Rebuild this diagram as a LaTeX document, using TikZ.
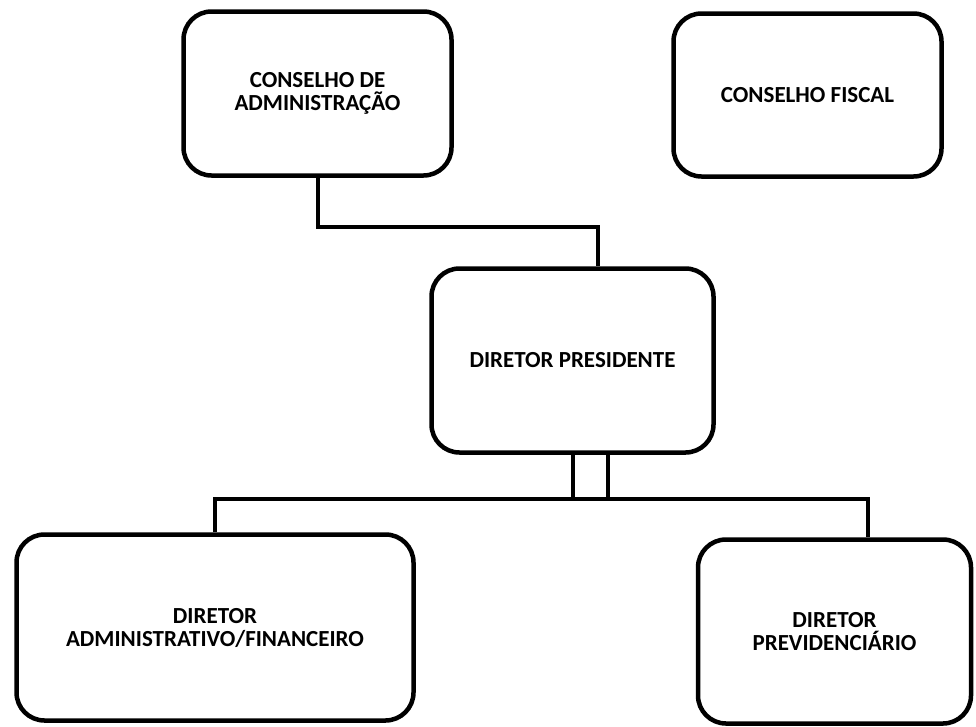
\documentclass[tikz,border=0pt]{standalone}
\usepackage{fontspec}
\setmainfont{Carlito}

\begin{document}
\begin{tikzpicture}[x=1pt,y=-1pt]

      \useasboundingbox (0,0) rectangle (976,726);

      \begin{scope}[every node/.style={draw,rounded corners=28pt,line width=4.5pt,
          align=center,inner sep=0pt,font=\bfseries\fontsize{23}{23}\selectfont}]
        \node[minimum width=268pt,minimum height=164pt] (ca)    at (317.5,93.5)  {CONSELHO DE\\ADMINISTRAÇÃO};
        \node[minimum width=268pt,minimum height=163pt] (cf)    at (807.5,95)    {CONSELHO FISCAL};
        \node[minimum width=282pt,minimum height=184pt] (dp)    at (572.5,360.5) {DIRETOR PRESIDENTE};
        \node[minimum width=397pt,minimum height=186pt] (daf)   at (215,627.5)   {DIRETOR\\ADMINISTRATIVO/FINANCEIRO};
        \node[minimum width=273pt,minimum height=184pt] (dprev) at (834.5,631.5) {DIRETOR\\PREVIDENCIÁRIO};
      \end{scope}

      \coordinate (bend) at (598,227);
      \coordinate (bus)  at (0,499);
      \coordinate (twin) at ([xshift=35pt]dp.south);
      \coordinate (tap)  at ([xshift=33pt]dprev.north);

      \begin{scope}[line width=4pt]
        \draw (ca.south) |- (bend) -- (bend |- dp.north);
        \draw (dp.south) -- (dp.south |- bus);
        \draw (twin) -- (twin |- bus);
        \draw (daf.north) |- (tap |- bus) -- (tap);
      \end{scope}

    \end{tikzpicture}
\end{document}
